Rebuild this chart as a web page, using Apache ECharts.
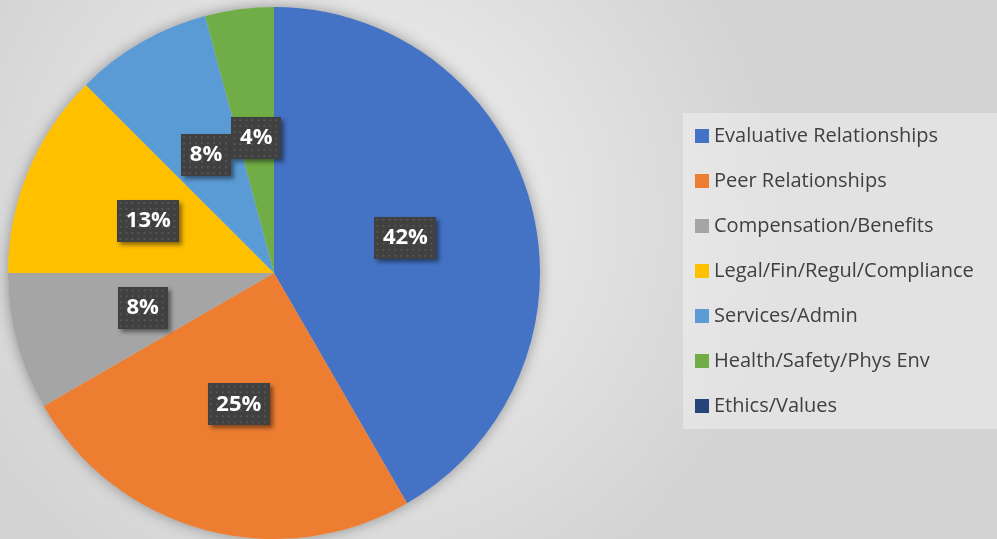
<!DOCTYPE html>
<html>
<head>
<meta charset="utf-8">
<script src="https://cdn.jsdelivr.net/npm/echarts@6/dist/echarts.min.js"></script>
<style>
    html, body { margin: 0; padding: 0; }
    #main { width: 997px; height: 539px; }
</style>
</head>
<body>
<div id="main"></div>
<script>
    // categories and counts
    var categories = ['Evaluative Relationships', 'Peer Relationships', 'Compensation/Benefits',
        'Legal/Fin/Regul/Compliance', 'Services/Admin', 'Health/Safety/Phys Env', 'Ethics/Values'];
    var counts = [10, 6, 2, 3, 2, 1, 0];
    var colors = ['#4472C4', '#ED7D31', '#A5A5A5', '#FFC000', '#5B9BD5', '#70AD47', '#264478'];

    // dotted dark label background
    function makePattern(w, h) {
        var c = document.createElement('canvas');
        c.width = w;
        c.height = h;
        var ctx = c.getContext('2d');
        ctx.fillStyle = '#404040';
        ctx.fillRect(0, 0, w, h);
        ctx.fillStyle = '#555555';
        for (var y = 2; y < h; y += 6) {
            for (var x = 2; x < w; x += 6) {
                ctx.fillRect(x, y, 2, 2);
            }
        }
        return c;
    }

    var total = counts.reduce(function (a, b) { return a + b; }, 0);
    var pieData = [];
    for (var i = 0; i < categories.length; i++) {
        var pct = Math.round(counts[i] / total * 100) + '%';
        var w = pct.length > 2 ? 62 : 50;
        pieData.push({
            name: categories[i],
            value: counts[i],
            label: {
                show: counts[i] > 0,
                width: w,
                height: 42,
                backgroundColor: { image: makePattern(w, 42) }
            }
        });
    }

    var chart = echarts.init(document.getElementById('main'));
    chart.setOption({
        backgroundColor: {
            type: 'radial', x: 0.35, y: 0.4, r: 0.8,
            colorStops: [
                { offset: 0, color: '#f3f3f3' },
                { offset: 1, color: '#d3d3d3' }
            ]
        },
        color: colors,
        animation: false,
        legend: {
            orient: 'vertical',
            left: 683,
            top: 113,
            padding: [13, 40, 13, 12],
            backgroundColor: 'rgba(255,255,255,0.35)',
            itemWidth: 14,
            itemHeight: 14,
            itemGap: 25,
            icon: 'rect',
            textStyle: {
                fontFamily: 'Open Sans',
                fontSize: 20,
                lineHeight: 20,
                color: '#404040'
            },
            data: categories
        },
        series: [{
            // soft shadow behind the pie
            type: 'pie',
            silent: true,
            center: [274, 273],
            radius: 266,
            label: { show: false },
            itemStyle: {
                color: '#cccccc',
                shadowColor: 'rgba(0,0,0,0.35)',
                shadowBlur: 14
            },
            data: [{ name: 'bg', value: 1 }],
            z: 1
        }, {
            type: 'pie',
            center: [274, 273],
            radius: 266,
            startAngle: 90,
            clockwise: true,
            z: 2,
            label: {
                position: 'inside',
                formatter: function (p) { return Math.round(p.percent) + '%'; },
                color: '#ffffff',
                fontFamily: 'Open Sans',
                fontWeight: 'bold',
                fontSize: 22,
                align: 'center',
                verticalAlign: 'middle',
                shadowColor: 'rgba(0,0,0,0.45)',
                shadowBlur: 4,
                shadowOffsetX: 3,
                shadowOffsetY: 3
            },
            labelLine: { show: false },
            data: pieData
        }]
    });
</script>
</body>
</html>
